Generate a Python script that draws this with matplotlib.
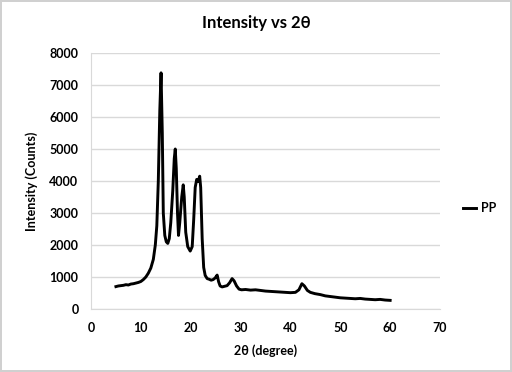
import matplotlib
matplotlib.use("Agg")
import matplotlib.pyplot as plt

plt.rcParams['font.family'] = ['Lato', 'DejaVu Sans']

two_theta = [5.0, 5.5, 6.0, 6.5, 7.0, 7.5, 8.0, 8.5, 9.0, 9.5, 10.0, 10.5, 11.0, 11.5,
             12.0, 12.5, 12.9, 13.2, 13.5, 13.8, 14.05, 14.3, 14.5, 14.8, 15.1, 15.4,
             15.7, 16.0, 16.4, 16.7, 16.9, 17.1, 17.35, 17.55, 17.8, 18.2, 18.5, 18.7,
             19.0, 19.4, 19.9, 20.3, 20.6, 20.9, 21.2, 21.5, 21.8, 22.0, 22.3, 22.6,
             22.9, 23.3, 23.7, 24.1, 24.5, 24.9, 25.3, 25.6, 25.9, 26.3, 26.8, 27.3,
             27.8, 28.3, 28.7, 29.2, 29.7, 30.2, 31, 32, 33, 34, 35, 36, 37, 38, 39,
             40, 41, 41.7, 42.3, 42.8, 43.4, 44, 44.9, 46, 47, 48, 49, 50, 51, 52, 53,
             54, 55, 56, 57, 58, 59, 60]
intensity = [700, 720, 730, 740, 760, 750, 780, 790, 810, 830, 860, 920, 1000, 1120,
             1280, 1550, 2000, 2600, 4000, 6200, 7380, 5500, 3000, 2300, 2100, 2050,
             2200, 2700, 3700, 4700, 5000, 4400, 3000, 2300, 2700, 3500, 3880, 3500,
             2400, 1950, 1810, 1950, 2800, 3800, 4050, 3980, 4150, 3800, 2200, 1300,
             1050, 950, 930, 900, 920, 970, 1060, 850, 720, 690, 710, 730,
             820, 950, 880, 720, 620, 600, 610, 590, 600, 580, 560, 550, 540, 530, 520,
             510, 520, 600, 790, 720, 580, 520, 480, 450, 410, 390, 370, 350, 340, 330, 320,
             330, 310, 300, 290, 300, 280, 270]

x_ticks = [0, 10, 20, 30, 40, 50, 60, 70]
y_ticks = [0, 1000, 2000, 3000, 4000, 5000, 6000, 7000, 8000]

fig = plt.figure(figsize=(5.12, 3.72), dpi=100, edgecolor="#d0d0d0", linewidth=1.5)
ax = fig.add_axes([91 / 512, 63 / 372, 349 / 512, 256 / 372])

ax.plot(two_theta, intensity, color="black", linewidth=2.1, label="PP")

ax.set_xlim(0, 70)
ax.set_ylim(0, 8000)
ax.set_xticks(x_ticks)
ax.set_yticks(y_ticks)
ax.tick_params(length=0, labelsize=9, pad=9)
for lbl in ax.get_xticklabels() + ax.get_yticklabels():
    lbl.set_fontweight("bold")

ax.grid(axis="y", color="#d9d9d9", linewidth=1)
ax.set_axisbelow(True)
for side in ["top", "right"]:
    ax.spines[side].set_visible(False)
for side in ["left", "bottom"]:
    ax.spines[side].set_color("#d9d9d9")

ax.set_xlabel("2θ (degree)", fontsize=9, fontweight="bold", labelpad=8)
ax.set_ylabel("Intensity (Counts)", fontsize=9, fontweight="bold", labelpad=8)
fig.text(0.5, 1 - 23 / 372, "Intensity vs 2θ", ha="center", va="center",
         fontsize=12, fontweight="bold")

leg = ax.legend(loc="center left", bbox_to_anchor=(1.035, 0.395), frameon=False,
                handlelength=1.0, handletextpad=0.4, prop={"size": 9, "weight": "bold"})

fig.savefig("out.png", dpi=100)
